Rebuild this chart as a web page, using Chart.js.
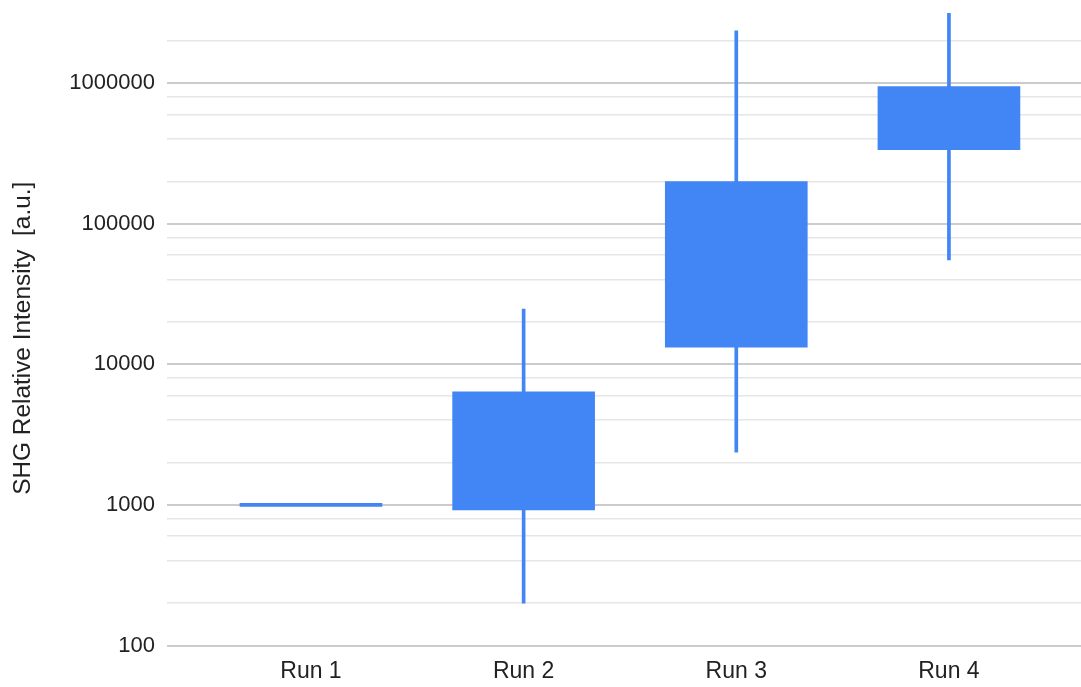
<!DOCTYPE html>
<html>
<head>
<meta charset="utf-8">
<title>SHG Relative Intensity by Run</title>
<script src="https://cdn.jsdelivr.net/npm/chart.js@4.4.1/dist/chart.umd.min.js"></script>
<style>
  html, body { margin: 0; padding: 0; background: #ffffff; }
  #wrap { width: 1081px; height: 687px; }
</style>
</head>
<body>
<div id="wrap"><canvas id="chart" width="1081" height="687"></canvas></div>
<script>
// Runs and their candlestick values (low / open / close / high)
const runs = ['Run 1', 'Run 2', 'Run 3', 'Run 4'];
const lows = [1000, 200, 2370, 55300];
const opens = [1000, 920, 13230, 335400];
const closes = [1000, 6370, 199500, 945700];
const highs = [1000, 24700, 2356000, 3150000];

// Log-axis grid: labelled decades plus 2/4/6/8 subdivisions
const yDecades = [100, 1000, 10000, 100000, 1000000];
const ySubSteps = [2, 4, 6, 8];
const yTitle = 'SHG Relative Intensity  [a.u.]';

const runPositions = runs.map((_, i) => i + 1);
const yMin = 100;
const yMax = Math.max(...highs);

const yGridValues = [];
yDecades.forEach(d => {
  yGridValues.push(d);
  ySubSteps.forEach(s => { if (d * s <= yMax) yGridValues.push(d * s); });
});

const isDecade = v => yDecades.includes(v);

const BLUE = '#4285f4';
const TEXT = '#222222';
const FONT = "'Liberation Sans', Arial, sans-serif";

// Rotated y-axis title, centred a little below the middle of the plot
const yTitlePlugin = {
  id: 'yTitle',
  afterDraw(chart) {
    const { ctx, chartArea } = chart;
    const cy = (chartArea.top + chartArea.bottom) / 2 + 9;
    ctx.save();
    ctx.font = `24.4px ${FONT}`;
    ctx.fillStyle = TEXT;
    ctx.textAlign = 'center';
    ctx.textBaseline = 'middle';
    ctx.translate(23, cy);
    ctx.rotate(-Math.PI / 2);
    ctx.fillText(yTitle, 0, 0);
    ctx.restore();
  }
};

new Chart(document.getElementById('chart'), {
  type: 'bar',
  data: {
    datasets: [
      {
        label: 'Open / Close',
        data: runPositions.map((x, i) => ({ x, y: [opens[i], closes[i]] })),
        backgroundColor: BLUE,
        borderWidth: 0,
        barThickness: 142,
        // a flat candle (open == close) keeps a thin body centred on its level
        minBarLength: 3,
        base: opens[0],
        grouped: false
      },
      {
        label: 'Low / High',
        data: runPositions.map((x, i) => ({ x, y: [lows[i], highs[i]] })),
        backgroundColor: BLUE,
        borderWidth: 0,
        barThickness: 3,
        grouped: false
      }
    ]
  },
  plugins: [yTitlePlugin],
  options: {
    responsive: false,
    animation: false,
    devicePixelRatio: 1,
    layout: { padding: { top: 13, right: 0, bottom: 0, left: 0 } },
    plugins: {
      legend: { display: false },
      tooltip: { enabled: false }
    },
    scales: {
      x: {
        type: 'linear',
        offset: false,
        min: 0.323,
        max: 4.621,
        afterBuildTicks: scale => { scale.ticks = runPositions.map(v => ({ value: v })); },
        afterFit: scale => { scale.height = 41.5; },
        grid: { display: false, drawTicks: false, offset: false },
        border: { display: false },
        ticks: {
          padding: 12,
          color: TEXT,
          font: { family: FONT, size: 23 },
          maxRotation: 0,
          autoSkip: false,
          callback: v => runs[v - 1] ?? ''
        }
      },
      y: {
        type: 'logarithmic',
        min: yMin,
        max: yMax,
        afterBuildTicks: scale => { scale.ticks = yGridValues.map(v => ({ value: v })); },
        afterFit: scale => {
          scale.width = 167;
          scale.paddingTop = 0;
          scale.paddingBottom = 0;
        },
        grid: {
          drawTicks: false,
          color: ctx => isDecade(ctx.tick.value) ? '#cccccc' : '#e6e6e6',
          lineWidth: ctx => isDecade(ctx.tick.value) ? 2 : 1.5
        },
        border: { display: false },
        ticks: {
          padding: 12,
          color: TEXT,
          font: { family: FONT, size: 22 },
          autoSkip: false,
          callback: v => isDecade(v) ? String(v) : ''
        },
        title: { display: false }
      }
    }
  }
});
</script>
</body>
</html>
